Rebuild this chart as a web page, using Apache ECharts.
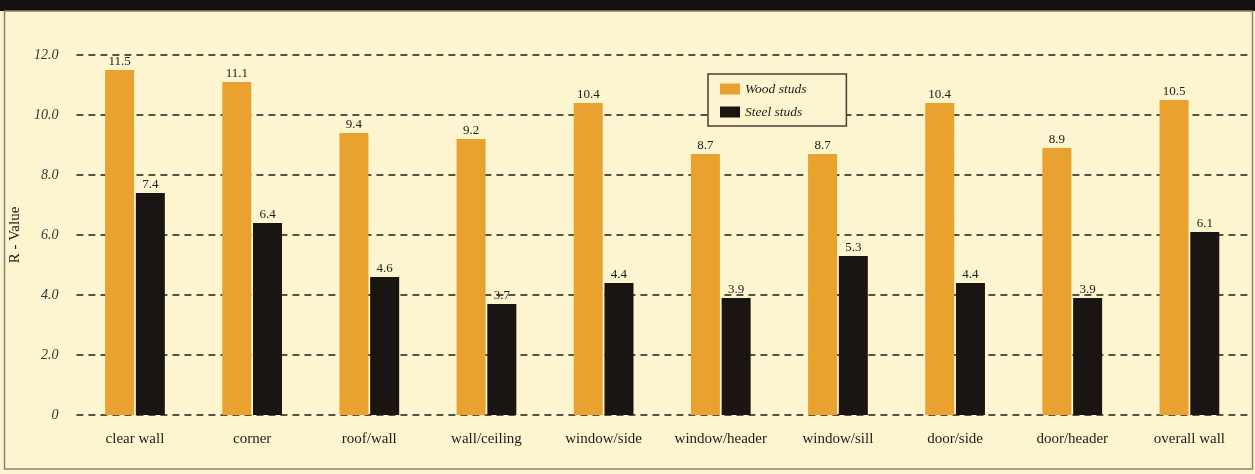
<!DOCTYPE html>
<html>
<head>
<meta charset="utf-8">
<title>R-Value: wood vs steel studs</title>
<script src="https://cdn.jsdelivr.net/npm/echarts@6/dist/echarts.min.js"></script>
<style>
  html, body { margin: 0; padding: 0; background: #fdf5cf; }
  #chart { width: 1255px; height: 474px; }
</style>
</head>
<body>
<div id="chart"></div>
<script>
const categories = ['clear wall', 'corner', 'roof/wall', 'wall/ceiling', 'window/side',
  'window/header', 'window/sill', 'door/side', 'door/header', 'overall wall'];
const woodStuds = [11.5, 11.1, 9.4, 9.2, 10.4, 8.7, 8.7, 10.4, 8.9, 10.5];
const steelStuds = [7.4, 6.4, 4.6, 3.7, 4.4, 3.9, 5.3, 4.4, 3.9, 6.1];
const yTicks = { min: 0, max: 12, interval: 2 };

const serif = '"Liberation Serif", "DejaVu Serif", serif';
const bg = '#fdf5cf';
const ink = '#1f1a16';

const chart = echarts.init(document.getElementById('chart'));

function barLabel() {
  return {
    show: true,
    position: 'top',
    distance: 2,
    color: ink,
    fontFamily: serif,
    fontSize: 13,
    formatter: p => p.value.toFixed(1)
  };
}

chart.setOption({
  backgroundColor: bg,
  animation: false,
  graphic: [
    { type: 'rect', shape: { x: 0, y: 0, width: 1255, height: 11 }, style: { fill: '#15110e' }, z: 10 },
    { type: 'rect', shape: { x: 4.5, y: 11, width: 1248, height: 458 },
      style: { fill: 'none', stroke: '#8a8276', lineWidth: 1.5 }, z: 10 }
  ],
  grid: { left: 76, right: 7, top: 55, bottom: 59 },
  legend: {
    left: 708,
    top: 74,
    orient: 'vertical',
    backgroundColor: bg,
    borderColor: '#4a3e30',
    borderWidth: 1.5,
    borderRadius: 0,
    padding: [8, 40, 7, 12],
    itemWidth: 20,
    itemHeight: 11,
    itemGap: 9,
    icon: 'rect',
    textStyle: { fontFamily: serif, fontStyle: 'italic', fontSize: 13.5, color: ink },
    data: ['Wood studs', 'Steel studs']
  },
  xAxis: {
    type: 'category',
    data: categories,
    axisLine: { show: false },
    axisTick: { show: false },
    axisLabel: { interval: 0, color: ink, fontFamily: serif, fontSize: 15, margin: 17 }
  },
  yAxis: {
    type: 'value',
    min: yTicks.min,
    max: yTicks.max,
    interval: yTicks.interval,
    name: 'R - Value',
    nameLocation: 'middle',
    nameGap: 50,
    nameRotate: 90,
    nameTextStyle: { fontFamily: serif, fontSize: 15, color: ink },
    axisLine: { show: false },
    axisTick: { show: false },
    axisLabel: {
      margin: 18,
      color: '#3a3430',
      fontFamily: serif,
      fontStyle: 'italic',
      fontSize: 14,
      formatter: v => (v === 0 ? '0' : v.toFixed(1))
    },
    splitLine: { lineStyle: { color: '#221d19', width: 1.6, type: [7, 5] } }
  },
  series: [
    {
      name: 'Wood studs',
      type: 'bar',
      data: woodStuds,
      barWidth: 29,
      barGap: '6%',
      itemStyle: { color: '#e9a230' },
      label: barLabel()
    },
    {
      name: 'Steel studs',
      type: 'bar',
      data: steelStuds,
      barWidth: 29,
      itemStyle: { color: '#1a1512' },
      label: barLabel()
    }
  ]
});
</script>
</body>
</html>
